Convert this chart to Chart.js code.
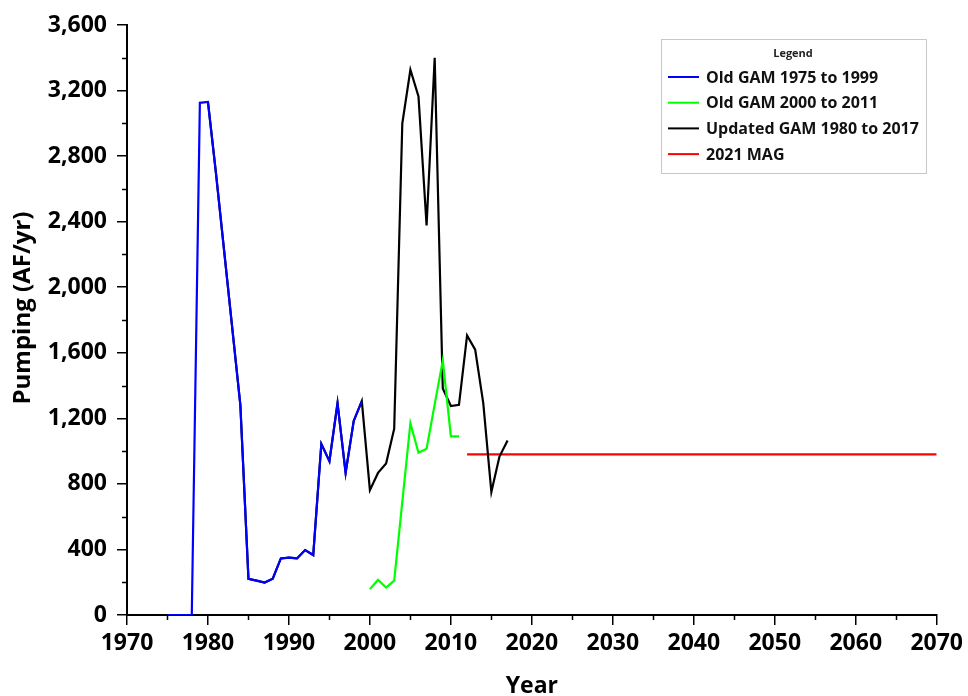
<!DOCTYPE html>
<html><head><meta charset="utf-8">
<style>html,body{margin:0;padding:0;background:#fff;} #wrap{width:968px;height:696px;position:relative;}</style>
<script src="https://cdn.jsdelivr.net/npm/chart.js@4/dist/chart.umd.min.js"></script>
</head><body><div id="wrap"><canvas id="c" width="968" height="696"></canvas></div>
<script>
// ---- data ----
const oldGam1Years = [1975,1976,1977,1978,1979,1980,1981,1982,1983,1984,1985,1986,1987,1988,1989,1990,1991,1992,1993,1994,1995,1996,1997,1998,1999];
const oldGam1Vals  = [0,0,0,0,3125,3130,2690,2220,1750,1281,221,210,198,221,345,350,345,396,366,1044,939,1293,867,1184,1305];
const oldGam2Years = [2000,2001,2002,2003,2004,2005,2006,2007,2008,2009,2010,2011];
const oldGam2Vals  = [158,214,168,210,690,1170,990,1014,1285,1554,1090,1090];
const updGamYears  = [1980,1981,1982,1983,1984,1985,1986,1987,1988,1989,1990,1991,1992,1993,1994,1995,1996,1997,1998,1999,2000,2001,2002,2003,2004,2005,2006,2007,2008,2009,2010,2011,2012,2013,2014,2015,2016,2017];
const updGamVals   = [3130,2690,2220,1750,1281,221,210,198,221,345,350,345,396,366,1044,939,1293,867,1184,1305,762,867,925,1137,2999,3327,3164,2377,3400,1382,1275,1282,1706,1619,1293,750,967,1065];
const magYears = [2012,2070];
const magVals  = [980,980];
const seriesNames = ['Old GAM 1975 to 1999','Old GAM 2000 to 2011','Updated GAM 1980 to 2017','2021 MAG'];
const xTicks = {min:1970, max:2070, step:10};
const yTicks = {min:0, max:3600, step:400};
const yTitle = 'Pumping (AF/yr)';

const pts = (xs, ys) => xs.map((x,i)=>({x:x, y:ys[i]}));
const FONT = "'Open Sans', 'Noto Sans', sans-serif";

const minorTicks = {
  id:'minorTicks',
  afterDraw(chart){
    const ctx=chart.ctx, xs=chart.scales.x, ys=chart.scales.y;
    ctx.save(); ctx.strokeStyle='#000'; ctx.lineWidth=1.5;
    for (let v=xTicks.min+xTicks.step/2; v<xTicks.max; v+=xTicks.step){
      const px=Math.round(xs.getPixelForValue(v))+0.5;
      ctx.beginPath(); ctx.moveTo(px, xs.top); ctx.lineTo(px, xs.top+5); ctx.stroke();
    }
    for (let v=yTicks.min+yTicks.step/2; v<yTicks.max; v+=yTicks.step){
      const py=Math.round(ys.getPixelForValue(v))+0.5;
      ctx.beginPath(); ctx.moveTo(ys.right, py); ctx.lineTo(ys.right-5, py); ctx.stroke();
    }
    // y axis title
    ctx.translate(23, 308); ctx.rotate(-Math.PI/2);
    ctx.fillStyle='#000'; ctx.textAlign='center'; ctx.textBaseline='middle';
    ctx.font="bold 24px "+FONT;
    ctx.fillText(yTitle, 0, 0);
    ctx.restore();
  }
};

const boxLegend = {
  id:'boxLegend',
  afterDraw(chart){
    const ctx=chart.ctx;
    const L=661, T=39, R=926, B=173;
    ctx.save();
    ctx.fillStyle='#fff'; ctx.fillRect(L,T,R-L,B-T);
    ctx.strokeStyle='#c8c8c8'; ctx.lineWidth=1; ctx.strokeRect(L+0.5,T+0.5,R-L,B-T);
    ctx.fillStyle='#222'; ctx.textAlign='center'; ctx.textBaseline='middle';
    ctx.font="bold 11px "+FONT;
    ctx.fillText('Legend', 793, 54);
    ctx.textAlign='left';
    ctx.font="bold 16px "+FONT;
    chart.data.datasets.forEach((ds,i)=>{
      const y=77+i*25.7;
      ctx.strokeStyle=ds.borderColor; ctx.lineWidth=2;
      ctx.beginPath(); ctx.moveTo(668,y); ctx.lineTo(699,y); ctx.stroke();
      ctx.fillStyle='#111'; ctx.fillText(ds.label, 706, y+1);
    });
    ctx.restore();
  }
};

new Chart(document.getElementById('c'), {
  type:'line',
  data:{ datasets:[
    {label:seriesNames[0], data:pts(oldGam1Years,oldGam1Vals), borderColor:'#0000ff'},
    {label:seriesNames[1], data:pts(oldGam2Years,oldGam2Vals), borderColor:'#00ff00'},
    {label:seriesNames[2], data:pts(updGamYears,updGamVals), borderColor:'#000000'},
    {label:seriesNames[3], data:pts(magYears,magVals), borderColor:'#ff0000'}
  ].map(d=>Object.assign(d,{borderWidth:2.2, pointRadius:0, tension:0, fill:false}))},
  options:{
    responsive:false, animation:false,
    layout:{padding:{top:25, right:30, left:0, bottom:0}},
    plugins:{legend:{display:false}, tooltip:{enabled:false}},
    scales:{
      x:{type:'linear', min:xTicks.min, max:xTicks.max,
         afterFit:(s)=>{s.height=81;},
         ticks:{stepSize:xTicks.step, color:'#000', padding:5, maxRotation:0,
                font:{family:FONT, size:23, weight:'bold'}, callback:(v)=>String(v)},
         grid:{drawOnChartArea:false, drawTicks:true, tickLength:10, color:'#000', lineWidth:1.5},
         border:{display:true, color:'#000', width:2},
         title:{display:true, text:'Year', color:'#000', padding:{top:0,bottom:-4},
                font:{family:FONT, size:23, weight:'bold'}}},
      y:{type:'linear', min:yTicks.min, max:yTicks.max,
         afterFit:(s)=>{s.width=127;},
         ticks:{stepSize:yTicks.step, color:'#000', padding:10,
                font:{family:FONT, size:23, weight:'bold'}, callback:(v)=>v.toLocaleString('en-US')},
         grid:{drawOnChartArea:false, drawTicks:true, tickLength:10, color:'#000', lineWidth:1.5},
         border:{display:true, color:'#000', width:2},
         title:{display:false}}
    }
  },
  plugins:[minorTicks, boxLegend]
});
</script></body></html>
